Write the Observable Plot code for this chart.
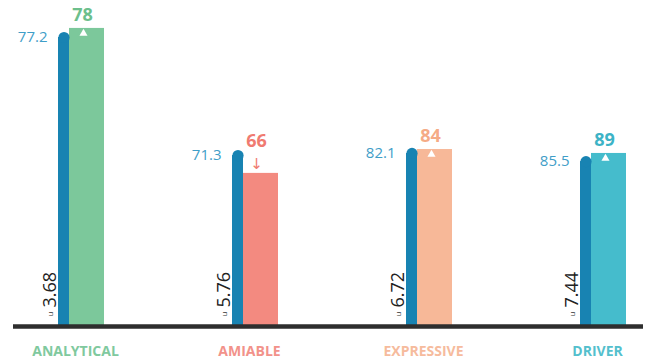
<!DOCTYPE html>
<html>
<head>
<meta charset="utf-8">
<script src="https://cdn.jsdelivr.net/npm/d3@7"></script>
<script src="https://cdn.jsdelivr.net/npm/@observablehq/plot@0.6"></script>
<style>
  html, body { margin: 0; padding: 0; background: #ffffff; }
  #chart svg { display: block; font-family: "Open Sans", sans-serif; }
</style>
</head>
<body>
<div id="chart"></div>
<script>
// ---- data ----
const categories = ["ANALYTICAL", "AMIABLE", "EXPRESSIVE", "DRIVER"];
const blueValues = [77.2, 71.3, 82.1, 85.5];       // labels beside the thin blue bars
const scoreValues = [78, 66, 84, 89];              // bold labels above the coloured bars
const bottomValues = [3.68, 5.76, 6.72, 7.44];     // rotated labels at the base
const blueBarHeights = [95.7, 56.6, 57.3, 54.6];   // drawn height of thin bars (0-100 visual scale)
const scoreBarHeights = [98.7, 50.7, 58.6, 57.3];  // drawn height of coloured bars (0-100 visual scale)
const trend = ["up", "down", "up", "up"];
const barColors = ["#7cc89b", "#f38a80", "#f7b898", "#45bccc"];
const labelColors = ["#6cbf8c", "#f07b71", "#f5ab86", "#3db3c6"];
const categoryColors = ["#80c99e", "#f2928a", "#f6bb9d", "#54bfcd"];
const blueColor = "#1883b2";
const blueTextColor = "#3f9ec8";

const data = categories.map((c, i) => ({
  cat: c,
  blueVal: blueValues[i],
  score: scoreValues[i],
  bottom: bottomValues[i],
  blueH: blueBarHeights[i],
  scoreH: scoreBarHeights[i],
  trend: trend[i],
  barColor: barColors[i],
  labelColor: labelColors[i],
  catColor: categoryColors[i]
}));

const chart = Plot.plot({
  width: 649,
  height: 363,
  marginTop: 24,
  marginBottom: 37,
  marginLeft: 13,
  marginRight: 6,
  style: { background: "#ffffff", fontFamily: "Open Sans, sans-serif" },
  x: { type: "band", domain: categories, range: [58, 626], paddingInner: 0.7356, paddingOuter: 0, round: false, axis: null },
  y: { domain: [0, 100], axis: null },
  color: { type: "identity" },
  marks: [
    // coloured bars
    Plot.barY(data, { x: "cat", y: "scoreH", fill: "barColor", insetLeft: 11, insetRight: 0 }),
    // thin blue bars
    Plot.barY(data, { x: "cat", y: "blueH", fill: blueColor, insetLeft: 0, insetRight: 35 }),
    // round caps on blue bars
    Plot.dot(data, { x: "cat", y: "blueH", dx: -17.5, r: 5.6, fill: blueColor, stroke: null }),
    // baseline
    Plot.ruleY([0], { stroke: "#2e2e2e", strokeWidth: 4.5 }),
    // blue value labels
    Plot.text(data, { x: "cat", y: "blueH", text: d => d.blueVal.toFixed(1), dx: -34, textAnchor: "end",
      fill: blueTextColor, fontSize: 15 }),
    // score labels (up)
    Plot.text(data.filter(d => d.trend === "up"), { x: "cat", y: "scoreH", text: d => String(d.score), dx: 1, dy: -13,
      fill: "labelColor", fontSize: 18, fontWeight: "bold" }),
    // score labels (down: above arrow)
    Plot.text(data.filter(d => d.trend === "down"), { x: "cat", y: "scoreH", text: d => String(d.score), dx: 1, dy: -32,
      fill: "labelColor", fontSize: 18, fontWeight: "bold" }),
    // down arrow
    Plot.text(data.filter(d => d.trend === "down"), { x: "cat", y: "scoreH", text: () => "↓", dx: 1, dy: -9,
      fill: "labelColor", fontSize: 15, fontFamily: "DejaVu Sans" }),
    // white up triangles inside bars
    Plot.dot(data.filter(d => d.trend === "up"), { x: "cat", y: "scoreH", symbol: "triangle", r: 3, dx: 2, dy: 5,
      fill: "#ffffff", stroke: null }),
    // rotated bottom values
    Plot.text(data, { x: "cat", y: 0, text: d => d.bottom.toFixed(2), rotate: -90, textAnchor: "start",
      dx: -31.5, dy: -19, fill: "#222222", fontSize: 18 }),
    // small icon under rotated values
    Plot.text(data, { x: "cat", y: 0, text: () => "u", rotate: -90, textAnchor: "start",
      dx: -31.5, dy: -10, fill: "#333333", fontSize: 8 }),
    // category labels
    Plot.text(data, { x: "cat", y: 0, text: "cat", dx: -6, dy: 25, fill: "catColor",
      fontSize: 14, fontWeight: "bold", letterSpacing: "1.2px" })
  ]
});

document.getElementById("chart").appendChild(chart);
</script>
</body>
</html>
